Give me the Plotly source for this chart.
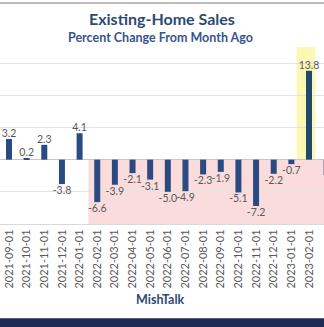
import plotly.graph_objects as go

# Monthly percent change in existing-home sales
months = [
    "2021-09-01", "2021-10-01", "2021-11-01", "2021-12-01", "2022-01-01",
    "2022-02-01", "2022-03-01", "2022-04-01", "2022-05-01", "2022-06-01",
    "2022-07-01", "2022-08-01", "2022-09-01", "2022-10-01", "2022-11-01",
    "2022-12-01", "2023-01-01", "2023-02-01", "2023-03-01",
]
pct_change = [
    3.2, 0.2, 2.3, -3.8, 4.1,
    -6.6, -3.9, -2.1, -3.1, -5.0,
    -4.9, -2.3, -1.9, -5.1, -7.2,
    -2.2, -0.7, 13.8, -2.4,
]
highlight_month = "2023-02-01"
decline_start = "2022-02-01"

BAR = "#2A4A82"
BAR_HI = "#1F4A6C"
LABEL = "#595959"
NAVY = "#2E4A72"
FONT = "Lato"

W, H = 324, 327
TOP, BOTTOM = 47, 224.5            # plot area edges in pixels
PLOT_H = BOTTOM - TOP


def py(pix):
    """Convert a pixel row to paper y."""
    return (BOTTOM - pix) / PLOT_H


colors = [BAR_HI if m == highlight_month else BAR for m in months]
idx_hi = months.index(highlight_month)
idx_dec = months.index(decline_start)

fig = go.Figure(
    go.Bar(
        x=months,
        y=pct_change,
        marker=dict(color=colors, line=dict(width=0)),
        width=0.34,
        text=[f"{v:.1f}" for v in pct_change],
        textposition="outside",
        textfont=dict(family=FONT, size=10.5, color=LABEL),
        constraintext="none",
        cliponaxis=False,
        hoverinfo="skip",
    )
)

fig.update_layout(
    width=W,
    height=H,
    margin=dict(l=0, r=0, t=TOP, b=H - BOTTOM, pad=0),
    paper_bgcolor="white",
    plot_bgcolor="white",
    showlegend=False,
    font=dict(family=FONT, color=LABEL),
    xaxis=dict(
        type="category",
        range=[-0.51, 17.85],
        tickangle=-90,
        tickfont=dict(family=FONT, size=11, color=LABEL),
        showgrid=False,
        showline=True,
        linecolor="#D9D9D9",
        linewidth=1,
        ticks="",
        zeroline=False,
    ),
    yaxis=dict(
        range=[-10, 17.5],
        dtick=5,
        showticklabels=False,
        showgrid=True,
        gridcolor="#E3E3E3",
        gridwidth=1,
        zeroline=True,
        zerolinecolor="#C8C8C8",
        zerolinewidth=1,
        ticks="",
    ),
    shapes=[
        # shaded run of monthly declines
        dict(type="rect", xref="x", yref="y", x0=idx_dec - 0.5, x1=idx_hi + 3,
             y0=-10, y1=0, fillcolor="#FADCDC", line=dict(width=0), layer="below"),
        # highlight behind the standout month
        dict(type="rect", xref="x", yref="paper", x0=idx_hi - 0.7, x1=idx_hi + 0.35,
             y0=py(160), y1=1, fillcolor="#FDF7B4", line=dict(width=0), layer="between"),
        # thin rule across the top
        dict(type="line", xref="paper", yref="paper", x0=0, x1=1,
             y0=py(3), y1=py(3), line=dict(color="#A6A6A6", width=1.5)),
        # dark footer band
        dict(type="rect", xref="paper", yref="paper", x0=0, x1=1,
             y0=py(319), y1=py(328), fillcolor="#1F2A55", line=dict(width=0)),
    ],
    annotations=[
        dict(text="<b>Existing-Home Sales</b>", xref="paper", yref="paper",
             x=0.5, y=py(18), xanchor="center", yanchor="middle", showarrow=False,
             font=dict(family=FONT, size=16, color=NAVY)),
        dict(text="<b>Percent Change From Month Ago</b>", xref="paper", yref="paper",
             x=0.495, y=py(37), xanchor="center", yanchor="middle", showarrow=False,
             font=dict(family=FONT, size=12.5, color="#36558A")),
        dict(text="<b>MishTalk</b>", xref="paper", yref="paper",
             x=0.495, y=py(300), xanchor="center", yanchor="middle", showarrow=False,
             font=dict(family=FONT, size=12.5, color=NAVY)),
    ],
)

fig.write_html("out.html")
